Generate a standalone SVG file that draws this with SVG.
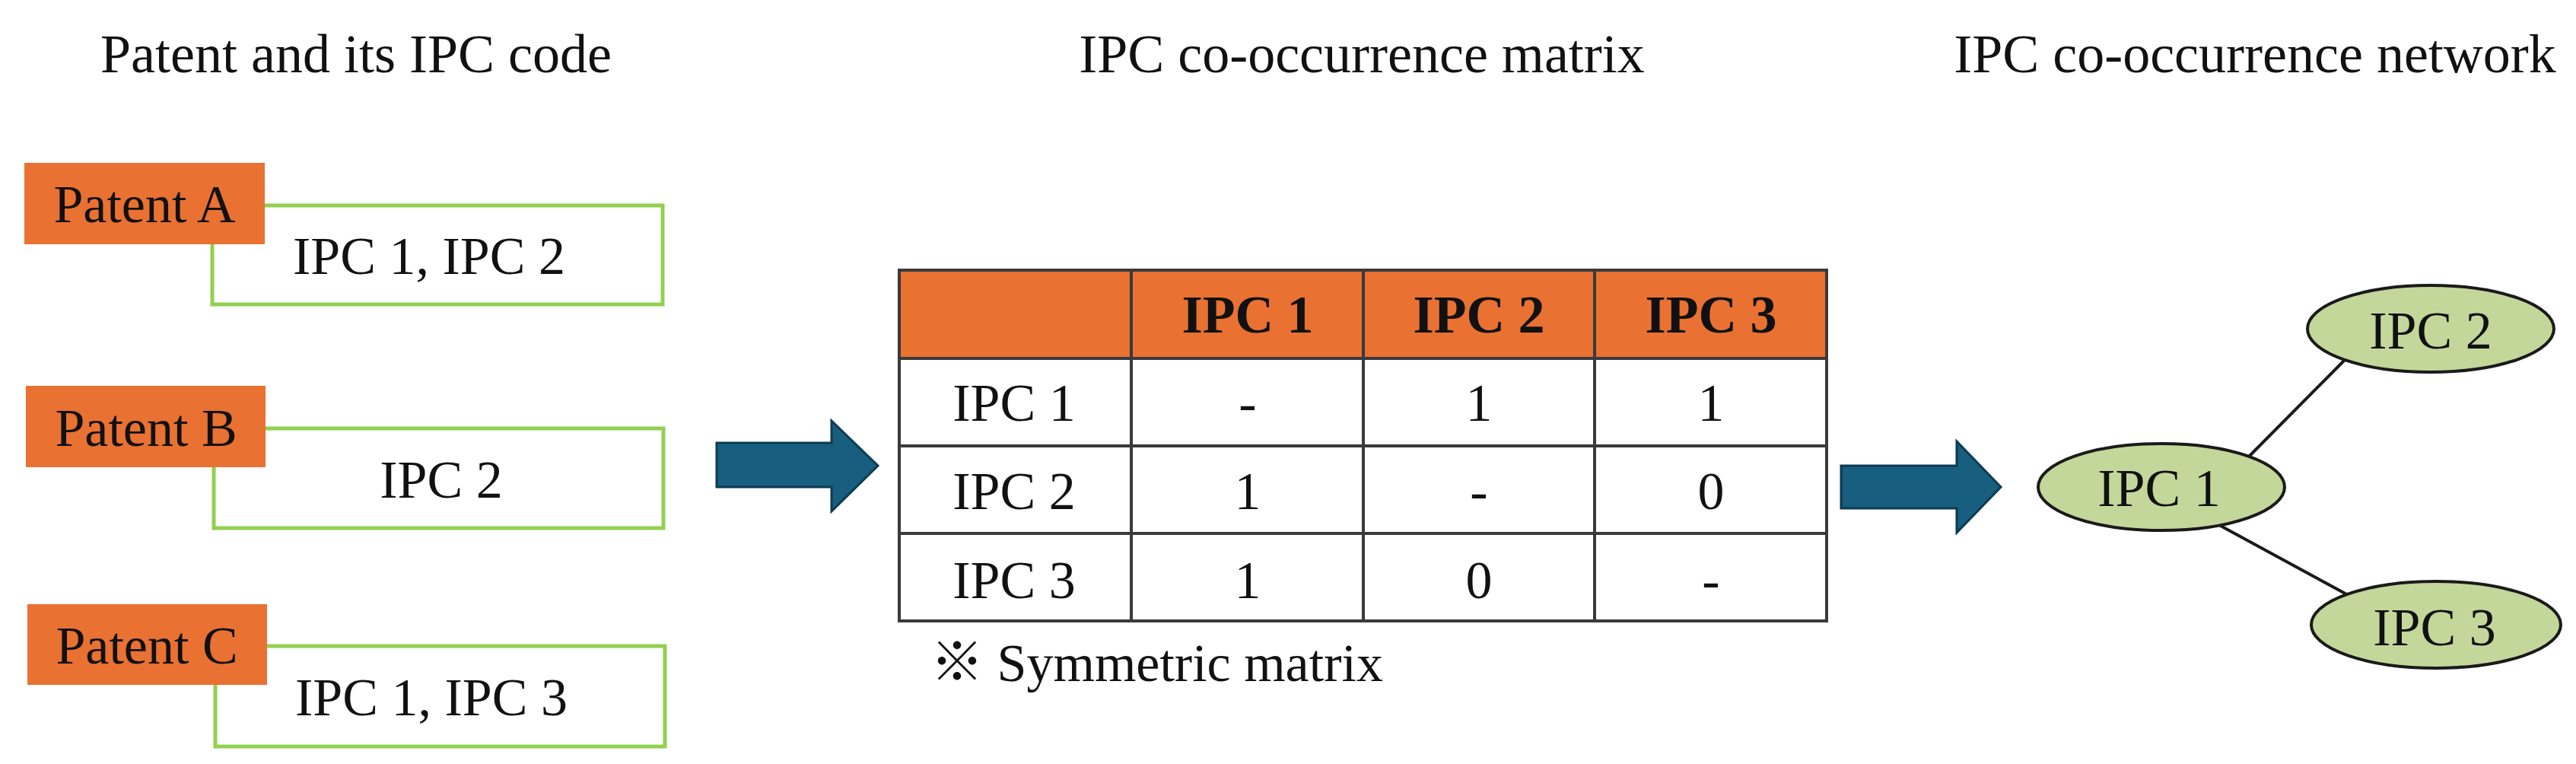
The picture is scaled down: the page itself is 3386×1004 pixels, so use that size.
<svg xmlns="http://www.w3.org/2000/svg" width="3386" height="1004" viewBox="0 0 3386 1004">
<style>
text{font-family:"Liberation Serif","Noto Sans CJK JP",serif;fill:#111;}
.t{font-size:72px;text-anchor:middle;}
.l{font-size:70px;text-anchor:middle;}
.b{font-size:70px;text-anchor:middle;font-weight:bold;}
.org{fill:#E97132;}
.grn{fill:#fff;stroke:#92D050;stroke-width:5;}
.grid{stroke:#3a3a3a;stroke-width:4;fill:none;}
.arrow{fill:#175E7F;stroke:#0D3B52;stroke-width:3;}
.node{fill:#C4D79B;stroke:#1a1a1a;stroke-width:4;}
.edge{stroke:#1a1a1a;stroke-width:4;}
</style>
<rect width="3386" height="1004" fill="#fff"/>
<g id="titles">
<text class="t" x="468" y="95">Patent and its IPC code</text>
<text class="t" x="1790" y="95">IPC co-occurrence matrix</text>
<text class="t" x="2964" y="95">IPC co-occurrence network</text>
</g>
<g id="patentA">
<rect class="grn" x="279" y="270" width="592" height="130"/>
<rect class="org" x="32" y="214" width="316" height="107"/>
<text class="l" x="190" y="292">Patent A</text>
<text class="l" x="564" y="360">IPC 1, IPC 2</text>
</g>
<g id="patentB">
<rect class="grn" x="281" y="563" width="591" height="131"/>
<rect class="org" x="34" y="507" width="315" height="107"/>
<text class="l" x="192" y="586">Patent B</text>
<text class="l" x="580" y="654">IPC 2</text>
</g>
<g id="patentC">
<rect class="grn" x="283" y="849" width="591" height="132"/>
<rect class="org" x="36" y="794" width="315" height="106"/>
<text class="l" x="193" y="872">Patent C</text>
<text class="l" x="567" y="940">IPC 1, IPC 3</text>
</g>
<g id="matrix">
<rect class="org" x="1182" y="355" width="1219" height="116"/>
<rect x="1182" y="471" width="1219" height="345" fill="#fff"/>
<path class="grid" d="M1182,355H2401V816H1182Z M1182,471H2401 M1182,586H2401 M1182,701H2401 M1487,355V816 M1792,355V816 M2096,355V816"/>
<text class="b" x="1640" y="437">IPC 1</text>
<text class="b" x="1944" y="437">IPC 2</text>
<text class="b" x="2249" y="437">IPC 3</text>
<text class="l" x="1333" y="553">IPC 1</text>
<text class="l" x="1640" y="553">-</text>
<text class="l" x="1944" y="553">1</text>
<text class="l" x="2249" y="553">1</text>
<text class="l" x="1333" y="669">IPC 2</text>
<text class="l" x="1640" y="669">1</text>
<text class="l" x="1944" y="669">-</text>
<text class="l" x="2249" y="669">0</text>
<text class="l" x="1333" y="786">IPC 3</text>
<text class="l" x="1640" y="786">1</text>
<text class="l" x="1944" y="786">0</text>
<text class="l" x="2249" y="786">-</text>
<text x="1223" y="895" font-size="70">※ Symmetric matrix</text>
</g>
<g id="connectors">
<path class="arrow" d="M942,582H1093V553L1154,612L1093,672V640H942Z"/>
<path class="arrow" d="M2420,612H2572V580L2630,640L2572,700V668H2420Z"/>
<line class="edge" x1="2955" y1="601" x2="3084" y2="471"/>
<line class="edge" x1="2917" y1="690" x2="3090" y2="784"/>
</g>
<g id="ipc1">
<ellipse class="node" cx="2841" cy="640" rx="162" ry="57"/>
<text class="l" x="2838" y="665">IPC 1</text>
</g>
<g id="ipc2">
<ellipse class="node" cx="3195" cy="432" rx="162" ry="57"/>
<text class="l" x="3195" y="458">IPC 2</text>
</g>
<g id="ipc3">
<ellipse class="node" cx="3202" cy="821" rx="164" ry="57"/>
<text class="l" x="3200" y="848">IPC 3</text>
</g>
</svg>
